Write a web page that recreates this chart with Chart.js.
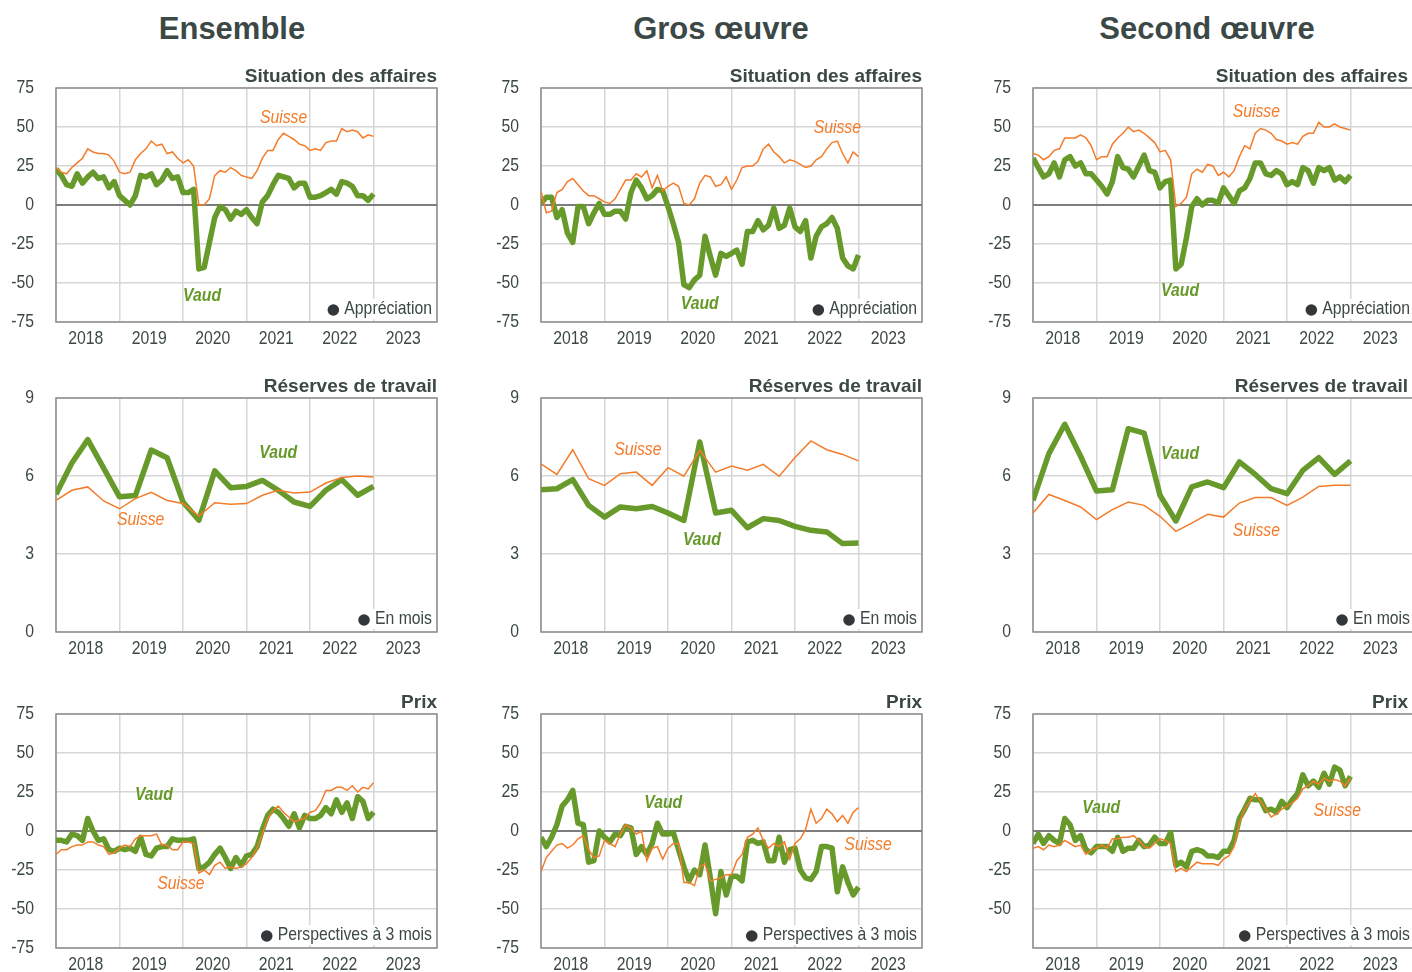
<!DOCTYPE html>
<html>
<head>
<meta charset="utf-8">
<script src="https://cdn.jsdelivr.net/npm/chart.js@4.4.0/dist/chart.umd.min.js"></script>
<style>
body{margin:0;width:1412px;height:972px;overflow:hidden;background:#fff;position:relative;font-family:"Liberation Sans",Arial,sans-serif}
.coltitle{position:absolute;top:11px;width:320px;text-align:center;font-weight:bold;font-size:31px;color:#3b4846}
.panel{position:absolute}
</style>
</head>
<body>
<div class="coltitle" style="left:72px">Ensemble</div>
<div class="coltitle" style="left:561px">Gros œuvre</div>
<div class="coltitle" style="left:1047px">Second œuvre</div>

<script>
// ===== données =====
const years = ['2018','2019','2020','2021','2022','2023'];

// Situation des affaires (mensuel)
const ensSitSuisse = [24,21,20,24,27,30,36,34,33,33,32,28,21,20,21,29,33,36,41,38,39,33,34,30,27,29,25,0,0,4,19,22,21,24,22,19,18,17,22,30,35,35,42,46,44,42,39,38,35,36,35,40,41,41,49,47,48,47,43,45,44];
const ensSitVaud = [23,19,13,12,20,14,18,21,17,18,11,15,6,3,0,6,19,18,20,13,16,22,17,18,8,8,10,-41,-40,-24,-8,-1,-3,-9,-4,-6,-3,-8,-12,2,6,13,19,18,17,11,14,14,5,5,6,8,10,7,15,14,12,6,6,3,7];
const grosSitSuisse = [9,-5,-4,8,10,15,17,13,9,6,6,4,2,1,4,10,16,16,20,18,22,11,19,9,12,14,12,1,0,4,14,19,18,12,13,18,10,16,24,25,25,28,36,39,34,31,27,29,28,26,24,25,29,31,36,40,41,33,27,34,31];
const grosSitVaud = [1,5,5,-8,-3,-18,-24,-1,-1,-12,-5,1,-6,-6,-4,-4,-9,8,16,11,4,6,10,9,-1,-12,-24,-51,-53,-48,-45,-20,-33,-45,-31,-33,-31,-29,-38,-17,-17,-10,-16,-13,-2,-15,-13,-2,-14,-17,-10,-34,-20,-14,-12,-8,-15,-34,-39,-41,-32];
const secSitSuisse = [33,32,29,31,35,36,43,43,43,45,43,38,29,31,31,39,43,46,50,47,48,46,43,40,34,35,29,-1,1,5,20,23,21,26,25,19,21,18,22,31,38,36,46,49,48,46,42,41,39,40,39,44,46,46,53,50,50,52,50,49,48];
const secSitVaud = [30,24,18,20,27,18,29,31,25,27,20,20,16,12,7,15,31,24,23,18,25,32,22,21,11,15,16,-41,-38,-21,-1,4,0,3,3,1,11,6,1,9,11,17,27,27,20,19,22,20,13,15,13,24,22,14,24,22,24,16,18,15,19];

// Réserves de travail (trimestriel, en mois)
const ensResSuisse = [5.06,5.45,5.58,5.04,4.74,5.13,5.37,5.06,4.94,4.46,4.97,4.91,4.94,5.26,5.45,5.35,5.38,5.73,5.94,6.0,5.96];
const ensResVaud = [5.3,6.5,7.4,6.3,5.2,5.25,7.0,6.7,5.0,4.3,6.2,5.55,5.6,5.83,5.45,5.0,4.83,5.45,5.86,5.26,5.6];
const grosResSuisse = [6.47,6.06,7.01,5.9,5.64,6.09,6.15,5.64,6.32,5.99,6.99,6.15,6.38,6.22,6.45,5.99,6.71,7.35,7.01,6.83,6.58];
const grosResVaud = [5.47,5.51,5.86,4.87,4.42,4.81,4.74,4.83,4.58,4.29,7.31,4.58,4.68,4.01,4.36,4.29,4.06,3.91,3.85,3.40,3.42];
const secResSuisse = [4.58,5.29,5.06,4.81,4.32,4.71,5.0,4.87,4.45,3.87,4.19,4.53,4.42,4.96,5.17,5.17,4.87,5.19,5.6,5.64,5.64];
const secResVaud = [5.06,6.86,7.99,6.76,5.42,5.47,7.82,7.65,5.26,4.27,5.58,5.77,5.55,6.54,6.06,5.51,5.32,6.22,6.71,6.06,6.58];

// Prix, perspectives à 3 mois (mensuel)
const ensPrixSuisse = [-15,-12,-12,-10,-9,-9,-7,-7,-9,-10,-15,-14,-11,-9,-10,-5,-3,-3,-3,-2,-9,-9,-12,-12,-7,-7,-8,-27,-25,-28,-22,-20,-24,-23,-24,-23,-21,-17,-11,-2,8,13,16,12,9,6,7,8,12,13,18,26,26,28,28,26,29,25,28,27,31];
const ensPrixVaud = [-6,-6,-7,-2,-3,-6,8,0,-6,-5,-12,-13,-11,-12,-11,-13,-4,-15,-16,-11,-10,-10,-5,-6,-6,-6,-5,-24,-23,-20,-15,-11,-17,-24,-17,-22,-16,-15,-10,1,10,14,12,8,3,11,2,10,8,8,10,15,11,20,12,18,8,22,19,8,12];
const grosPrixSuisse = [-26,-17,-13,-9,-8,-11,-9,-5,-3,-12,-17,-16,-6,-8,-10,-2,4,2,-2,0,-19,-11,-10,-18,-11,-8,-8,-33,-33,-35,-23,-21,-32,-31,-30,-28,-28,-19,-15,-4,-2,2,-6,-11,-8,-10,-7,-18,-8,-5,1,14,5,8,14,11,6,10,5,12,15];
const grosPrixVaud = [-4,-10,-4,4,16,20,26,5,4,-20,-19,0,-4,-7,-2,-3,3,2,-15,-10,-15,-8,5,-2,-2,-1,-12,-23,-32,-25,-28,-9,-30,-53,-26,-41,-29,-29,-32,-7,-6,-8,-7,-19,-19,-4,-20,-12,-11,-25,-30,-31,-26,-10,-10,-11,-39,-23,-33,-41,-36];
const secPrixSuisse = [-11,-10,-12,-9,-10,-9,-6,-8,-10,-9,-15,-12,-11,-9,-11,-5,-5,-4,-4,-3,-6,-10,-11,-8,-5,-6,-8,-26,-24,-26,-23,-20,-21,-21,-21,-22,-18,-16,-10,5,14,19,24,19,14,9,11,14,16,18,21,27,29,32,30,34,32,33,32,29,34];
const secPrixVaud = [-8,-2,-8,-3,-6,-8,8,4,-6,-3,-12,-14,-10,-10,-10,-13,-4,-13,-11,-11,-6,-10,-9,-4,-8,-8,-1,-22,-20,-23,-13,-12,-13,-16,-16,-17,-13,-13,-6,8,14,21,20,20,13,14,12,19,15,20,24,36,29,32,28,37,30,41,39,29,35];

// ===== style =====
const GREEN = '#679a2b';
const ORANGE = '#f47b2a';
const TEXT = '#3b4846';
const FONT = '"Liberation Sans",Arial,sans-serif';
const SQUEEZE = 0.83; // pas de police étroite installée : on comprime

const cols = [
  {left: 6, subRight: 437, noteRight: 432},
  {left: 491, subRight: 922, noteRight: 917},
  {left: 983, subRight: 1408, noteRight: 1410}
];
const rows = [
  {top: 60, sub: 'Situation des affaires', note: 'Appréciation', min: -75, max: 75, step: 25, freq: 1},
  {top: 370, sub: 'Réserves de travail', note: 'En mois', min: 0, max: 9, step: 3, freq: 3},
  {top: 686, sub: 'Prix', note: 'Perspectives à 3 mois', min: -75, max: 75, step: 25, freq: 1}
];

const panels = [
  {c:0, r:0, suisse: ensSitSuisse, vaud: ensSitVaud, lab: {s:[43,56], v:[27.6,-58]}},
  {c:1, r:0, suisse: grosSitSuisse, vaud: grosSitVaud, lab: {s:[56,49.5], v:[30,-63]}},
  {c:2, r:0, suisse: secSitSuisse, vaud: secSitVaud, lab: {s:[42.2,60], v:[27.8,-55]}},
  {c:0, r:1, suisse: ensResSuisse, vaud: ensResVaud, lab: {s:[16,4.3], v:[42,6.9]}},
  {c:1, r:1, suisse: grosResSuisse, vaud: grosResVaud, lab: {s:[18.3,7.03], v:[30.4,3.53]}},
  {c:2, r:1, suisse: secResSuisse, vaud: secResVaud, lab: {s:[42.2,3.9], v:[27.8,6.87]}},
  {c:0, r:2, suisse: ensPrixSuisse, vaud: ensPrixVaud, lab: {s:[23.6,-34], v:[18.5,23]}},
  {c:1, r:2, suisse: grosPrixSuisse, vaud: grosPrixVaud, lab: {s:[61.8,-9], v:[23.1,17.8]}},
  {c:2, r:2, suisse: secPrixSuisse, vaud: secPrixVaud, lab: {s:[57.5,12.8], v:[12.9,14.6]}, hideMin: true}
];

function narrowText(ctx, txt, x, y, align) {
  ctx.save();
  ctx.translate(x, y);
  ctx.scale(SQUEEZE, 1);
  ctx.textAlign = align;
  ctx.fillText(txt, 0, 0);
  ctx.restore();
}

// cadre, graduations, titres, étiquettes
const decor = {
  id: 'decor',
  beforeDatasetsDraw(chart) {
    const {ctx, chartArea: a} = chart;
    ctx.save();
    ctx.strokeStyle = '#8e8e8e';
    ctx.lineWidth = 1.5;
    ctx.strokeRect(a.left, a.top, a.right - a.left, a.bottom - a.top);
    const y0 = chart.scales.y.getPixelForValue(0);
    if (y0 < a.bottom - 1) {
      ctx.strokeStyle = '#7d7d7d';
      ctx.lineWidth = 2;
      ctx.beginPath();
      ctx.moveTo(a.left, y0);
      ctx.lineTo(a.right, y0);
      ctx.stroke();
    }
    ctx.restore();
  },
  afterDatasetsDraw(chart, args, o) {
    const {ctx, chartArea: a, scales} = chart;
    ctx.save();
    ctx.textBaseline = 'middle';

    // graduations
    ctx.font = '19px ' + FONT;
    ctx.fillStyle = TEXT;
    scales.y.ticks.forEach(t => {
      if (o.hideMin && t.value === scales.y.min) return;
      narrowText(ctx, String(t.value), a.left - 22, scales.y.getPixelForValue(t.value), 'right');
    });
    scales.x.ticks.forEach(t => {
      if (t.value % 12 !== 6) return;
      narrowText(ctx, years[(t.value - 6) / 12], scales.x.getPixelForValue(t.value) - 2, a.bottom + 16.5, 'center');
    });

    // Suisse / Vaud
    ctx.font = 'italic 19px ' + FONT;
    ctx.fillStyle = ORANGE;
    narrowText(ctx, 'Suisse', scales.x.getPixelForValue(o.lab.s[0]), scales.y.getPixelForValue(o.lab.s[1]), 'center');
    ctx.font = 'italic bold 19px ' + FONT;
    ctx.fillStyle = GREEN;
    narrowText(ctx, 'Vaud', scales.x.getPixelForValue(o.lab.v[0]), scales.y.getPixelForValue(o.lab.v[1]), 'center');

    // sous-titre
    ctx.textBaseline = 'alphabetic';
    ctx.textAlign = 'right';
    ctx.font = 'bold 19px ' + FONT;
    ctx.fillStyle = TEXT;
    ctx.fillText(o.sub, o.subRight, a.top - 6);

    // note
    ctx.textBaseline = 'middle';
    ctx.font = '19px ' + FONT;
    const ny = a.bottom - 13;
    const tw = ctx.measureText(o.note).width * SQUEEZE;
    ctx.fillStyle = '#fff';
    ctx.fillRect(o.noteRight - tw - 17, ny - 10, tw + 16, 20);
    ctx.fillStyle = TEXT;
    narrowText(ctx, o.note, o.noteRight, ny, 'right');
    ctx.fillStyle = '#33373a';
    ctx.beginPath();
    ctx.arc(o.noteRight - tw - 11, ny + 1, 5.8, 0, Math.PI * 2);
    ctx.fill();
    ctx.restore();
  }
};

panels.forEach(p => {
  const col = cols[p.c];
  const row = rows[p.r];
  const div = document.createElement('div');
  div.className = 'panel';
  div.style.left = col.left + 'px';
  div.style.top = row.top + 'px';
  const cv = document.createElement('canvas');
  cv.width = 437;
  cv.height = 292;
  div.appendChild(cv);
  document.body.appendChild(div);

  const pts = arr => arr.map((v, i) => ({x: i * row.freq, y: v}));

  new Chart(cv, {
    type: 'line',
    data: {
      datasets: [
        {label: 'Suisse', data: pts(p.suisse), borderColor: ORANGE, borderWidth: 1.5, pointRadius: 0, tension: 0},
        {label: 'Vaud', data: pts(p.vaud), borderColor: GREEN, borderWidth: 5.5, pointRadius: 0, tension: 0, borderJoinStyle: 'round'}
      ]
    },
    options: {
      responsive: false,
      animation: false,
      layout: {padding: {top: 28, right: 6, left: 0, bottom: 0}},
      plugins: {
        legend: {display: false},
        tooltip: {enabled: false},
        decor: {
          sub: row.sub, note: row.note, lab: p.lab, hideMin: p.hideMin,
          subRight: col.subRight - col.left, noteRight: col.noteRight - col.left
        }
      },
      scales: {
        x: {
          type: 'linear', min: 0, max: 72,
          afterFit: s => { s.height = 30; },
          border: {display: false},
          grid: {
            drawTicks: false,
            lineWidth: 1.5,
            color: c => (c.tick && c.tick.value % 12 === 0) ? '#d6d6d6' : 'rgba(0,0,0,0)'
          },
          ticks: {stepSize: 6, autoSkip: false, display: false}
        },
        y: {
          min: row.min, max: row.max,
          afterFit: s => { s.width = 50; },
          border: {display: false},
          grid: {drawTicks: false, lineWidth: 1.5, color: '#d6d6d6'},
          ticks: {stepSize: row.step, display: false}
        }
      }
    },
    plugins: [decor]
  });
});
</script>
</body>
</html>
